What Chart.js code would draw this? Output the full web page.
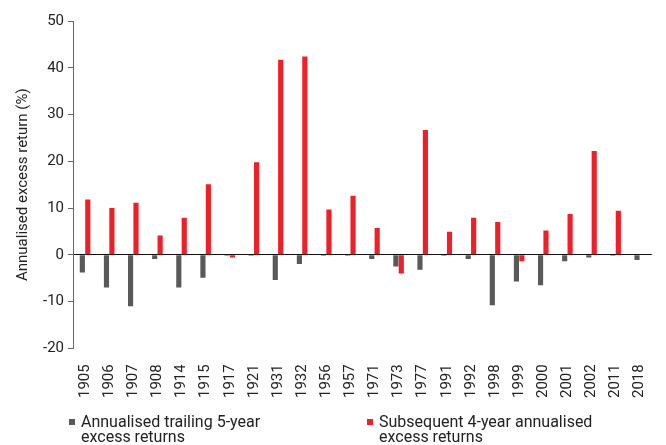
<!DOCTYPE html>
<html>
<head>
<meta charset="utf-8">
<script src="https://cdn.jsdelivr.net/npm/chart.js@4/dist/chart.umd.min.js"></script>
<style>
  html, body { margin: 0; padding: 0; background: #fff; }
  #wrap { width: 666px; height: 445px; }
</style>
</head>
<body>
<div id="wrap"><canvas id="excessChart" width="666" height="445"></canvas></div>
<script>
const years = ['1905', '1906', '1907', '1908', '1914', '1915', '1917', '1921', '1931', '1932', '1956', '1957',
  '1971', '1973', '1977', '1991', '1992', '1998', '1999', '2000', '2001', '2002', '2011', '2018'];
const trailingReturns = [-3.8, -7.0, -11.0, -0.9, -7.0, -4.9, -0.2, -0.2, -5.4, -2.0, -0.2, -0.2,
  -0.9, -2.5, -3.2, -0.2, -0.9, -10.8, -5.7, -6.5, -1.4, -0.6, -0.2, -1.1];
const subsequentReturns = [11.8, 10.0, 11.1, 4.1, 7.9, 15.1, -0.6, 19.8, 41.7, 42.4, 9.7, 12.6,
  5.7, -4.0, 26.7, 4.9, 7.9, 7.0, -1.4, 5.2, 8.7, 22.2, 9.4, 0];
const legendLines = [
  ['Annualised trailing 5-year', 'excess returns'],
  ['Subsequent 4-year annualised', 'excess returns']
];
const yTicks = [50, 40, 30, 20, 10, 0, -10, -20];

Chart.defaults.font.family = 'Roboto, "Noto Sans", sans-serif';
Chart.defaults.color = '#222';

// two-line legend under the axis labels, drawn by hand
const legendOffsets = [-4, 294];
const bottomLegend = {
  id: 'bottomLegend',
  afterDraw(chart) {
    const c = chart.ctx;
    const left = chart.chartArea.left;
    c.save();
    c.font = '16px Roboto, "Noto Sans", sans-serif';
    c.textBaseline = 'alphabetic';
    c.textAlign = 'left';
    chart.data.datasets.forEach((ds, i) => {
      const x = left + legendOffsets[i];
      c.fillStyle = ds.backgroundColor;
      c.fillRect(x, 419, 6, 6);
      c.fillStyle = '#222';
      legendLines[i].forEach((line, j) => {
        c.fillText(line, x + 12, 427 + j * 15);
      });
    });
    c.restore();
  }
};

const ctx = document.getElementById('excessChart').getContext('2d');
const excessChart = new Chart(ctx, {
  type: 'bar',
  data: {
    labels: years,
    datasets: [{
      label: legendLines[0].join(' '),
      data: trailingReturns,
      backgroundColor: '#595959',
      categoryPercentage: 0.45,
      barPercentage: 0.95
    }, {
      label: legendLines[1].join(' '),
      data: subsequentReturns,
      backgroundColor: '#ee1f26',
      categoryPercentage: 0.45,
      barPercentage: 0.95
    }]
  },
  plugins: [bottomLegend],
  options: {
    responsive: false,
    animation: false,
    layout: { padding: { top: 21, right: 13, left: 14, bottom: 39 } },
    plugins: {
      tooltip: { enabled: false },
      legend: { display: false }
    },
    scales: {
      x: {
        grid: { display: false },
        border: { display: false },
        ticks: {
          autoSkip: false,
          minRotation: 90,
          maxRotation: 90,
          padding: 8,
          font: { size: 15 },
          color: '#222'
        }
      },
      y: {
        min: -20,
        max: 50,
        afterBuildTicks(axis) {
          axis.ticks = yTicks.map(v => ({ value: v }));
        },
        border: { display: true, color: '#666', width: 1 },
        grid: {
          color: c => (c.tick && c.tick.value === 0 ? '#111' : 'rgba(0,0,0,0)'),
          tickColor: '#666',
          tickLength: 5,
          lineWidth: 1
        },
        ticks: {
          padding: 4,
          font: { size: 15 },
          color: '#222'
        },
        title: {
          display: true,
          text: 'Annualised excess return (%)',
          font: { size: 15 },
          color: '#222',
          padding: { top: 0, bottom: 7 }
        }
      }
    }
  }
});
</script>
</body>
</html>
